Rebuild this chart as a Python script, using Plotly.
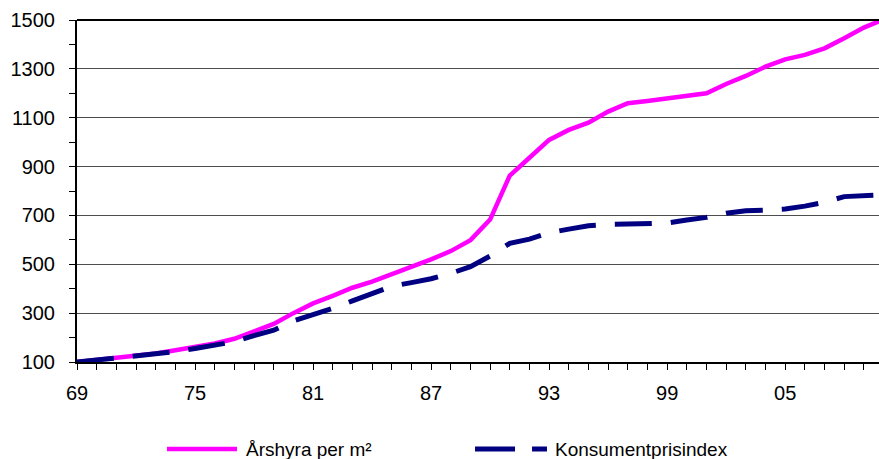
import plotly.graph_objects as go

years = list(range(1969, 2011))
arshyra = [100, 108, 116, 124, 135, 148, 160, 176, 195, 225, 256, 300, 340, 371,
           404, 429, 459, 490, 520, 554, 599, 683, 863, 936, 1009, 1050, 1080,
           1125, 1159, 1168, 1178, 1190, 1200, 1238, 1271, 1309, 1339, 1357,
           1384, 1425, 1469, 1502]
kpi = [100, 108, 115, 122, 131, 142, 155, 168, 183, 208, 230, 268, 292, 320,
       350, 381, 410, 425, 441, 463, 490, 534, 586, 603, 629, 644, 658, 663,
       665, 666, 669, 681, 692, 709, 719, 721, 726, 738, 754, 777, 779, 785]

x_tickvals = [1969, 1975, 1981, 1987, 1993, 1999, 2005]
x_ticktext = ["69", "75", "81", "87", "93", "99", "05"]
y_tickvals = [100, 300, 500, 700, 900, 1100, 1300, 1500]

name1 = "Årshyra per m²"
name2 = "Konsumentprisindex"

FONT = "Arial, Liberation Sans, sans-serif"
PINK = "#FF00FF"
NAVY = "#000080"

fig = go.Figure()
fig.add_trace(go.Scatter(x=years, y=arshyra, mode="lines", name=name1,
                         line=dict(color=PINK, width=4.5),
                         showlegend=False))
fig.add_trace(go.Scatter(x=years, y=kpi, mode="lines", name=name2,
                         line=dict(color=NAVY, width=5, dash="37px,19px"),
                         showlegend=False))

# manual legend
ly = -0.2544
fig.add_shape(type="line", xref="paper", yref="paper", x0=0.1122, x1=0.1995,
              y0=ly, y1=ly, line=dict(color=PINK, width=4.5))
fig.add_annotation(xref="paper", yref="paper", x=0.2082, y=ly, text=name1,
                   showarrow=False, xanchor="left", yanchor="middle",
                   font=dict(family=FONT, size=19, color="black"))
fig.add_shape(type="line", xref="paper", yref="paper", x0=0.4963, x1=0.5860,
              y0=ly, y1=ly, line=dict(color=NAVY, width=5, dash="40px,17px"))
fig.add_annotation(xref="paper", yref="paper", x=0.5935, y=ly, text=name2,
                   showarrow=False, xanchor="left", yanchor="middle",
                   font=dict(family=FONT, size=19, color="black"))

# top border line
fig.add_shape(type="line", xref="paper", yref="paper", x0=0, x1=1, y0=1, y1=1,
              line=dict(color="black", width=2))

fig.update_layout(
    width=879, height=459,
    margin=dict(l=77, r=0, t=20, b=97, autoexpand=False),
    paper_bgcolor="white", plot_bgcolor="white",
    font=dict(family=FONT, size=20, color="black"),
    showlegend=False,
    xaxis=dict(range=[1969, 2009.77], tickvals=x_tickvals, ticktext=x_ticktext,
               ticks="outside", ticklen=6, tickcolor="black", tickwidth=1,
               minor=dict(dtick=1, tick0=1969, ticks="outside", ticklen=6,
                          tickcolor="black", tickwidth=1, showgrid=False),
               showline=True, linecolor="black", linewidth=2,
               showgrid=False, zeroline=False, ticklabelstandoff=6,
               tickfont=dict(family=FONT, size=20, color="black")),
    yaxis=dict(range=[100, 1500], tickvals=y_tickvals,
               ticks="outside", ticklen=6, tickcolor="black", tickwidth=1,
               minor=dict(dtick=100, tick0=100, ticks="outside", ticklen=6,
                          tickcolor="black", tickwidth=1, showgrid=False),
               showline=True, linecolor="black", linewidth=2,
               showgrid=True, gridcolor="#4d4d4d", gridwidth=1,
               zeroline=False, ticklabelstandoff=10,
               tickfont=dict(family=FONT, size=20, color="black")),
)

fig.write_html("out.html",
               config={"displayModeBar": False},
               post_script="document.body.style.margin='0';"
                           "document.body.style.overflow='hidden';")
